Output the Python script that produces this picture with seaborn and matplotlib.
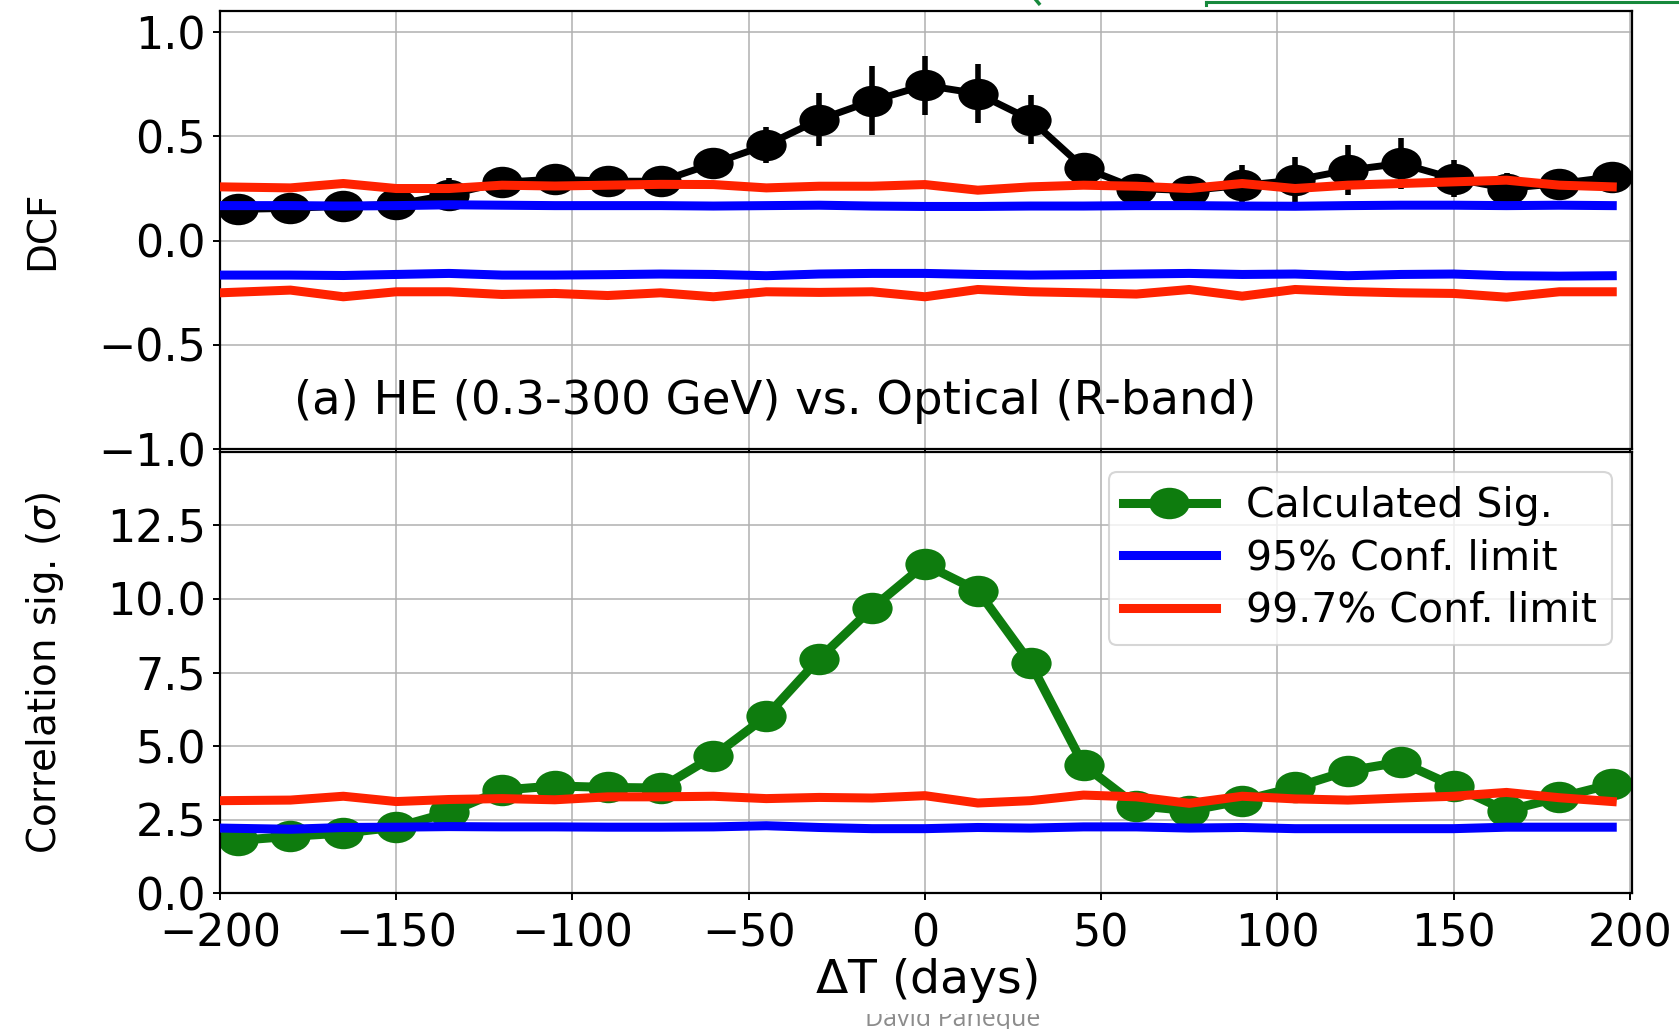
import numpy as np
import matplotlib
matplotlib.use("Agg")
import matplotlib.pyplot as plt
from matplotlib.path import Path
from matplotlib.lines import Line2D
from matplotlib.transforms import Bbox, TransformedBbox
import seaborn as sns

# ---------------------------------------------------------------- data
# time lags of the DCF bins (days)
lags = [-195, -180, -165, -150, -135, -120, -105, -90, -75, -60, -45, -30, -15,
        0, 15, 30, 45, 60, 75, 90, 105, 120, 135, 150, 165, 180, 195]
# lags at which the confidence bands were evaluated
limit_lags = [-200, -180, -165, -150, -135, -120, -105, -90, -75, -60, -45, -30, -15,
              0, 15, 30, 45, 60, 75, 90, 105, 120, 135, 150, 165, 180, 195]

# (a) discrete correlation function, HE gamma rays vs. optical R band
dcf = [0.150, 0.155, 0.165, 0.175, 0.220, 0.280, 0.295, 0.285, 0.285, 0.370,
       0.458, 0.580, 0.670, 0.745, 0.705, 0.580, 0.350, 0.250, 0.240, 0.265,
       0.290, 0.338, 0.370, 0.298, 0.250, 0.274, 0.306]
dcf_err = [0.05, 0.05, 0.05, 0.05, 0.08, 0.06, 0.06, 0.06, 0.06, 0.07,
           0.085, 0.126, 0.165, 0.142, 0.141, 0.116, 0.07, 0.07, 0.07, 0.096,
           0.11, 0.12, 0.12, 0.09, 0.075, 0.06, 0.06]

dcf_95_hi = [0.168, 0.168, 0.166, 0.168, 0.172, 0.170, 0.168, 0.168, 0.168, 0.166,
             0.168, 0.170, 0.166, 0.164, 0.164, 0.166, 0.166, 0.168, 0.168, 0.166,
             0.165, 0.168, 0.170, 0.170, 0.168, 0.170, 0.168]
dcf_95_lo = [-0.165, -0.165, -0.167, -0.162, -0.157, -0.165, -0.165, -0.163, -0.160,
             -0.162, -0.168, -0.160, -0.157, -0.157, -0.162, -0.165, -0.163, -0.160,
             -0.157, -0.162, -0.160, -0.168, -0.162, -0.160, -0.168, -0.170, -0.168]
dcf_997_hi = [0.258, 0.253, 0.274, 0.250, 0.250, 0.266, 0.262, 0.266, 0.270, 0.269,
              0.253, 0.261, 0.261, 0.269, 0.242, 0.258, 0.266, 0.261, 0.250, 0.274,
              0.250, 0.266, 0.274, 0.282, 0.290, 0.266, 0.258]
dcf_997_lo = [-0.250, -0.237, -0.269, -0.245, -0.245, -0.258, -0.253, -0.263, -0.250,
              -0.269, -0.245, -0.248, -0.245, -0.269, -0.234, -0.245, -0.250, -0.256,
              -0.234, -0.266, -0.234, -0.244, -0.250, -0.253, -0.271, -0.245, -0.245]

# (b) significance of the correlation (sigma)
sig = [1.80, 1.94, 2.05, 2.25, 2.75, 3.51, 3.65, 3.60, 3.58, 4.66,
       6.01, 7.97, 9.68, 11.17, 10.28, 7.81, 4.36, 2.98, 2.81, 3.15,
       3.60, 4.16, 4.46, 3.65, 2.81, 3.26, 3.71]
sig_95 = [2.22, 2.18, 2.24, 2.25, 2.27, 2.26, 2.26, 2.25, 2.25, 2.26,
          2.30, 2.24, 2.20, 2.20, 2.24, 2.22, 2.26, 2.26, 2.22, 2.24,
          2.20, 2.20, 2.20, 2.20, 2.25, 2.25, 2.25]
sig_997 = [3.15, 3.17, 3.30, 3.12, 3.19, 3.22, 3.18, 3.28, 3.28, 3.30,
           3.22, 3.26, 3.24, 3.32, 3.07, 3.15, 3.34, 3.28, 3.06, 3.30,
           3.21, 3.17, 3.24, 3.30, 3.43, 3.25, 3.12]

panel_label = "(a) HE (0.3-300 GeV) vs. Optical (R-band)"
legend_labels = ["Calculated Sig.", "95% Conf. limit", "99.7% Conf. limit"]

# ---------------------------------------------------------------- style
sns.set_style("whitegrid", {
    "axes.edgecolor": "black",
    "grid.color": "#b0b0b0",
    "xtick.bottom": True,
    "ytick.left": True,
    "xtick.direction": "out",
    "ytick.direction": "out",
    "xtick.color": "black",
    "ytick.color": "black",
    "text.color": "black",
    "axes.labelcolor": "black",
    "lines.solid_capstyle": "projecting",
})
plt.rcParams["font.family"] = ["DejaVu Sans"]
plt.rcParams["axes.linewidth"] = 1.6
plt.rcParams["grid.linewidth"] = 1.1
plt.rcParams["xtick.major.size"] = 5
plt.rcParams["ytick.major.size"] = 5
plt.rcParams["xtick.major.width"] = 1.4
plt.rcParams["ytick.major.width"] = 1.4
plt.rcParams["xtick.major.pad"] = 9
plt.rcParams["ytick.major.pad"] = 5
plt.rcParams["xtick.labelsize"] = 32
plt.rcParams["ytick.labelsize"] = 32
plt.rcParams["mathtext.fontset"] = "dejavusans"

BLUE = "#0000ff"
RED = "#ff2200"
GREEN = "#0e7c0e"

# slightly wide elliptical dot
_circ = Path.unit_circle()
dot = Path(_circ.vertices * np.array([1.28, 1.0]), _circ.codes)

fig = plt.figure(figsize=(16.79, 10.29), dpi=100)
ax1 = fig.add_axes([0.1310, 0.5634, 0.8410, 0.4257])
ax2 = fig.add_axes([0.1310, 0.1317, 0.8410, 0.4295], sharex=ax1)

# ---------------------------------------------------------------- DCF panel
ax1.errorbar(lags, dcf, yerr=dcf_err, fmt="none", ecolor="black",
             elinewidth=4, capsize=0, zorder=2)
sns.lineplot(x=lags, y=dcf, ax=ax1, color="black", lw=5, marker=dot,
             markersize=29, markeredgewidth=0, zorder=2)
for vals, col in [(dcf_95_hi, BLUE), (dcf_95_lo, BLUE),
                  (dcf_997_hi, RED), (dcf_997_lo, RED)]:
    sns.lineplot(x=limit_lags, y=vals, ax=ax1, color=col, lw=6.5, zorder=3)

ax1.set_ylim(-1.0, 1.1)
ax1.set_yticks([-1.0, -0.5, 0.0, 0.5, 1.0])
ax1.set_ylabel("DCF", fontsize=28)
ax1.yaxis.set_label_coords(-0.112, 0.5)
ax1.tick_params(axis="x", labelbottom=False)
ax1.text(-179, -0.77, panel_label, fontsize=33.5, ha="left", va="center")

# ---------------------------------------------------------------- significance panel
sns.lineplot(x=lags, y=sig, ax=ax2, color=GREEN, lw=6.5, marker=dot,
             markersize=29, markeredgewidth=0, zorder=2, label=legend_labels[0])
sns.lineplot(x=limit_lags, y=sig_95, ax=ax2, color=BLUE, lw=6.5, zorder=3,
             label=legend_labels[1])
sns.lineplot(x=limit_lags, y=sig_997, ax=ax2, color=RED, lw=6.5, zorder=3,
             label=legend_labels[2])

ax2.set_ylim(0, 15)
ax2.set_yticks([0.0, 2.5, 5.0, 7.5, 10.0, 12.5])
ax2.set_yticklabels(["0.0", "2.5", "5.0", "7.5", "10.0", "12.5"])
ax2.set_xlim(-200, 200.6)
ax2.set_xticks([-200, -150, -100, -50, 0, 50, 100, 150, 200])
ax2.set_ylabel(r"Correlation sig. ($\sigma$)", fontsize=28)
ax2.yaxis.set_label_coords(-0.109, 0.5)
ax2.set_xlabel(r"$\Delta$T (days)", fontsize=34, labelpad=0)

leg = ax2.legend(loc="upper right", fontsize=29.5, handlelength=2.25,
                 handletextpad=0.75, labelspacing=0.3, borderpad=0.35,
                 frameon=True, framealpha=0.8, edgecolor="0.8", fancybox=True)
leg.get_frame().set_linewidth(1.5)

for ax in (ax1, ax2):
    ax.grid(True, color="#b0b0b0", linewidth=1.1)
    ax.set_axisbelow(True)
    for s in ax.spines.values():
        s.set_color("black")
        s.set_linewidth(1.6)

# ---------------------------------------------------------------- slide remnants
footer = fig.text(0.5676, 0.0030, "David Paneque", fontsize=18,
                  family=["Open Sans", "DejaVu Sans"], color="#8c8c8c",
                  ha="center", va="baseline")
footer.set_clip_box(TransformedBbox(Bbox([[0.40, 0.0], [0.75, 0.0150]]),
                                    fig.transFigure))
footer.set_clip_on(True)

fig.add_artist(Line2D([1206 / 1679, 1.0], [0.9982, 0.9982], color="#17893c",
                      lw=2.2, transform=fig.transFigure))
fig.add_artist(Line2D([1206 / 1679, 1206 / 1679], [0.9982, 0.9955],
                      color="#17893c", lw=2.2, transform=fig.transFigure))
fig.add_artist(Line2D([1036 / 1679, 1039 / 1679], [1.0, 0.9965],
                      color="#17893c", lw=2.5, transform=fig.transFigure))

fig.savefig("out.png", dpi=100)
